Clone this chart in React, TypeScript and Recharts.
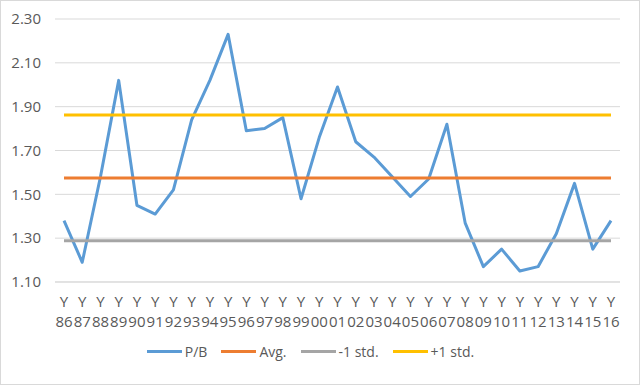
import { LineChart, Line, XAxis, YAxis, CartesianGrid, Legend } from 'recharts';

const years = [
  '86', '87', '88', '89', '90', '91', '92', '93', '94', '95', '96', '97', '98', '99', '00', '01',
  '02', '03', '04', '05', '06', '07', '08', '09', '10', '11', '12', '13', '14', '15', '16',
];
const pb = [
  1.38, 1.19, 1.58, 2.02, 1.45, 1.41, 1.52, 1.84, 2.02, 2.23, 1.79, 1.8, 1.85, 1.48, 1.76, 1.99,
  1.74, 1.67, 1.58, 1.49, 1.57, 1.82, 1.37, 1.17, 1.25, 1.15, 1.17, 1.32, 1.55, 1.25, 1.38,
];
const avgValue = 1.575;
const minusStd = 1.288;
const plusStd = 1.862;
const yTicks = [1.1, 1.3, 1.5, 1.7, 1.9, 2.1, 2.3];

const data = years.map((y, i) => ({
  name: 'Y' + y,
  pb: pb[i],
  avg: avgValue,
  minus: minusStd,
  plus: plusStd,
}));

const series = [
  { key: 'pb', label: 'P/B', color: '#5B9BD5' },
  { key: 'avg', label: 'Avg.', color: '#ED7D31' },
  { key: 'minus', label: '-1 std.', color: '#A5A5A5' },
  { key: 'plus', label: '+1 std.', color: '#FFC000' },
];

const font = '"Open Sans", "Noto Sans", sans-serif';
const textColor = '#595959';

function YearTick(props: any) {
  const { x, y, payload } = props;
  const label: string = payload.value;
  return (
    <g transform={`translate(${x},${y})`}>
      <text x={0} y={17} textAnchor="middle" fill={textColor} fontSize={15} fontFamily={font}>
        {label.slice(0, 1)}
      </text>
      <text x={0} y={37} textAnchor="middle" fill={textColor} fontSize={15} fontFamily={font}>
        {label.slice(1)}
      </text>
    </g>
  );
}

function ExcelLegend() {
  return (
    <div
      style={{
        display: 'flex',
        justifyContent: 'center',
        alignItems: 'center',
        height: 38,
        fontFamily: font,
        fontSize: 14,
        color: textColor,
      }}
    >
      {series.map((s) => (
        <div key={s.key} style={{ display: 'flex', alignItems: 'center', margin: '0 7px' }}>
          <div style={{ width: 35, height: 3, background: s.color, marginRight: 3 }} />
          <span>{s.label}</span>
        </div>
      ))}
    </div>
  );
}

export default function App() {
  return (
    <div
      style={{
        position: 'fixed',
        left: 0,
        top: 0,
        width: 640,
        height: 385,
        boxSizing: 'border-box',
        border: '1px solid #d9d9d9',
        background: '#fff',
      }}
    >
      <LineChart
        width={638}
        height={383}
        data={data}
        margin={{ top: 18, right: 19, left: 0, bottom: 14 }}
      >
        <CartesianGrid vertical={false} stroke="#d9d9d9" />
        <XAxis
          dataKey="name"
          interval={0}
          height={50}
          padding={{ left: 9, right: 9 }}
          axisLine={{ stroke: '#d9d9d9' }}
          tickLine={false}
          tick={<YearTick />}
        />
        <YAxis
          domain={[1.1, 2.3]}
          ticks={yTicks}
          width={54}
          axisLine={false}
          tickLine={false}
          tickMargin={8}
          tickFormatter={(v: number) => v.toFixed(2)}
          tick={{ fontSize: 15, fill: textColor, fontFamily: font }}
        />
        <Legend verticalAlign="bottom" height={38} content={<ExcelLegend />} />
        {series.map((s) => (
          <Line
            key={s.key}
            type="linear"
            dataKey={s.key}
            stroke={s.color}
            strokeWidth={3}
            strokeLinejoin="round"
            dot={false}
            activeDot={false}
            isAnimationActive={false}
          />
        ))}
      </LineChart>
    </div>
  );
}
